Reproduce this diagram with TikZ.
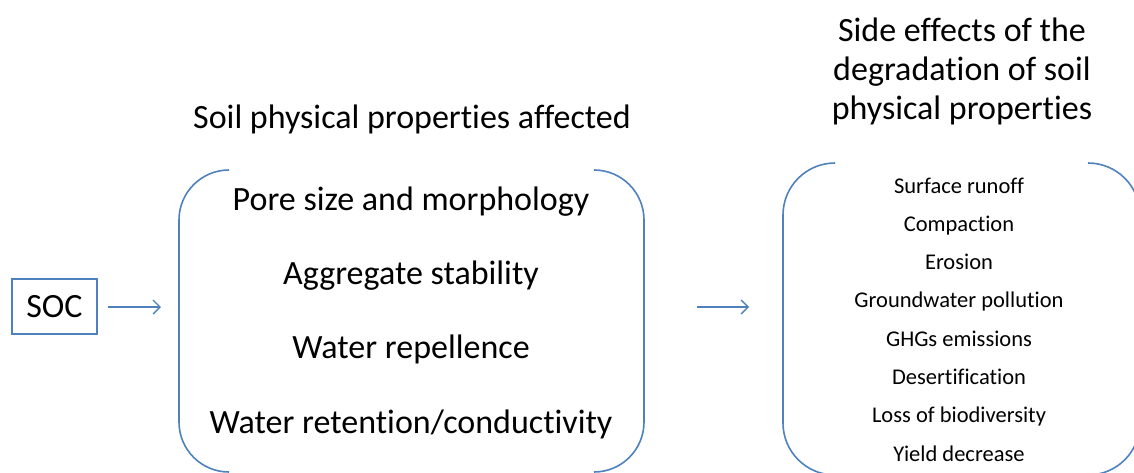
\documentclass[tikz,border=0pt]{standalone}
\usepackage{fontspec}
\setmainfont{Carlito}[RawFeature={-liga;-clig;-calt;-dlig}]
\usetikzlibrary{arrows.meta}
\definecolor{ln}{RGB}{79,129,189}
\tikzset{
  big/.style={font=\fontsize{34}{40}\selectfont, inner sep=0pt, anchor=base},
  small/.style={font=\fontsize{22.5}{27}\selectfont, inner sep=0pt, anchor=base},
  bracket/.style={draw=ln, line width=1.6pt, rounded corners=50pt},
  arr/.style={draw=ln, line width=1.3pt, -{Straight Barb[length=7pt,width=14pt,line width=1.3pt]}},
  socbox/.style={draw=ln, line width=1.6pt, minimum width=85pt, minimum height=55pt, inner sep=0pt, font=\fontsize{34}{40}\selectfont}
}
\begin{document}
\begin{tikzpicture}[x=1pt,y=-1pt]
\useasboundingbox (0,0) rectangle (1134,472);
\clip (0,0) rectangle (1134,472);
% SOC
\node[socbox] (soc) at (54.5,306.5) {SOC};
% titles
\node[big] (t1) at (412,128) {Soil physical properties affected};
\node[big] (t2a) at (962,41) {Side effects of the};
\node[big] (t2b) at (962,80) {degradation of soil};
\node[big] (t2c) at (962,119) {physical properties};
% box 1
\draw[bracket] (229,170) -- (179,170) -- (179,472) -- (229,472);
\draw[bracket] (595,170) -- (644,170) -- (644,472) -- (595,472);
\node[big] (p1) at (411,210) {Pore size and morphology};
\node[big] (p2) at (411,284.3) {Aggregate stability};
\node[big] (p3) at (411,358.7) {Water repellence};
\node[big] (p4) at (411,433) {Water retention/conductivity};
% box 2
\draw[bracket, rounded corners=52pt] (835,163) -- (783,163) -- (783,475) -- (835,475);
\draw[bracket, rounded corners=52pt] (1088,163) -- (1140,163) -- (1140,475) -- (1088,475);
\node[small] (e1) at (959,193) {Surface runoff};
\node[small] (e2) at (959,231.3) {Compaction};
\node[small] (e3) at (959,269.6) {Erosion};
\node[small] (e4) at (959,307.9) {Groundwater pollution};
\node[small] (e5) at (959,346.1) {GHGs emissions};
\node[small] (e6) at (959,384.4) {Desertification};
\node[small] (e7) at (959,422.7) {Loss of biodiversity};
\node[small] (e8) at (959,461) {Yield decrease};
% arrows
\coordinate (a1s) at (108,307);
\coordinate (a1e) at (161,307);
\coordinate (a2s) at (697,307);
\coordinate (a2e) at (749,307);
\draw[arr] (a1s) -- (a1e);
\draw[arr] (a2s) -- (a2e);
\end{tikzpicture}
\end{document}
